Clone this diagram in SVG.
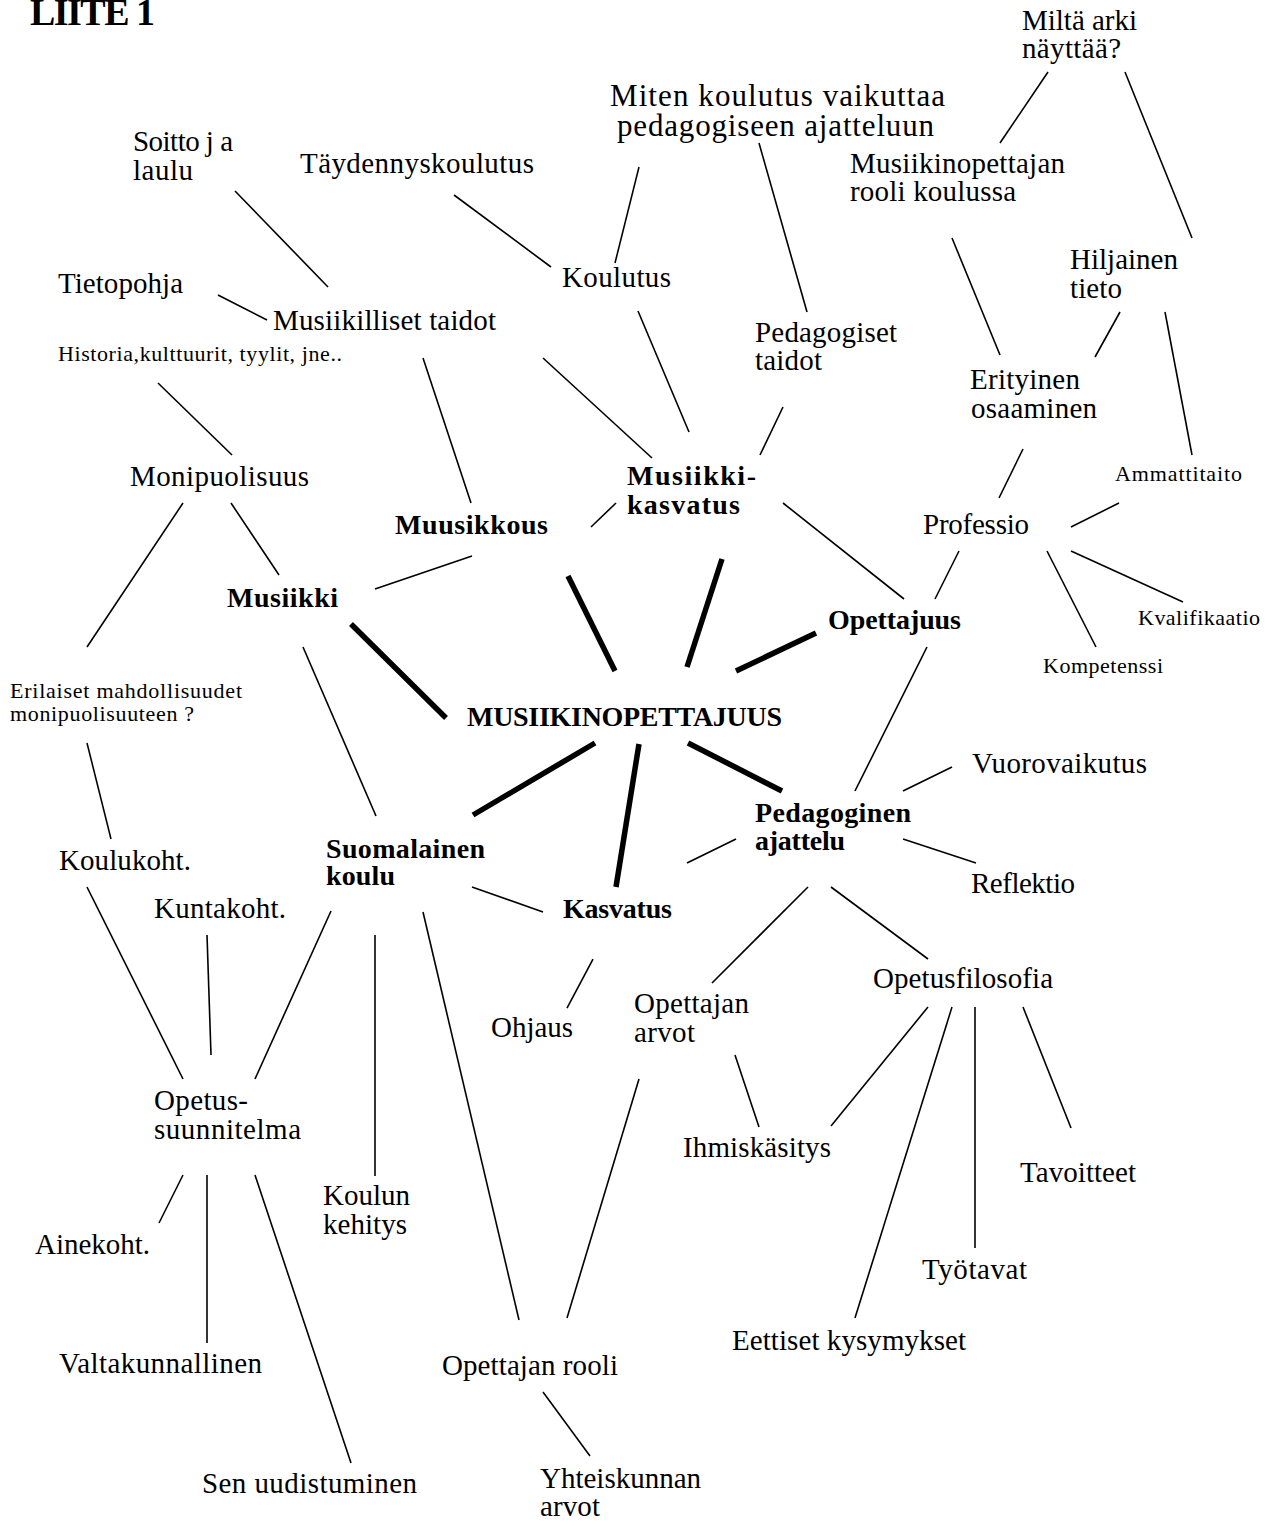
<svg xmlns="http://www.w3.org/2000/svg" width="1273" height="1526" viewBox="0 0 1273 1526">
  <style>
    text { font-family: "Liberation Serif", "DejaVu Serif", serif; fill: #000; }
    .n { font-size: 29px; }
    .big { font-size: 31px; }
    .s { font-size: 22px; }
    .b { font-size: 28px; font-weight: bold; }
    .title { font-size: 38px; font-weight: bold; }
    .thin line { stroke: #000; stroke-width: 1.6; }
    .thick line { stroke: #000; stroke-width: 5.5; }
  </style>
  <rect width="1273" height="1526" fill="#fff"/>

  <!-- connectors -->
  <g id="connectors">
    <g class="thin">
      <line x1="235" y1="191" x2="328" y2="287"/>
      <line x1="218" y1="295" x2="267" y2="320"/>
      <line x1="454" y1="195" x2="551" y2="267"/>
      <line x1="639" y1="167" x2="615" y2="263"/>
      <line x1="759" y1="143" x2="807" y2="312"/>
      <line x1="638" y1="311" x2="689" y2="432"/>
      <line x1="423" y1="358" x2="471" y2="503"/>
      <line x1="543" y1="358" x2="652" y2="458"/>
      <line x1="783" y1="407" x2="760" y2="455"/>
      <line x1="1048" y1="72" x2="1000" y2="143"/>
      <line x1="1125" y1="72" x2="1192" y2="238"/>
      <line x1="952" y1="238" x2="1000" y2="355"/>
      <line x1="1120" y1="312" x2="1095" y2="357"/>
      <line x1="1165" y1="312" x2="1192" y2="455"/>
      <line x1="1023" y1="449" x2="999" y2="498"/>
      <line x1="1119" y1="503" x2="1071" y2="527"/>
      <line x1="1047" y1="551" x2="1096" y2="647"/>
      <line x1="1071" y1="551" x2="1183" y2="602"/>
      <line x1="959" y1="551" x2="935" y2="599"/>
      <line x1="783" y1="503" x2="904" y2="599"/>
      <line x1="591" y1="527" x2="616" y2="503"/>
      <line x1="472" y1="556" x2="375" y2="589"/>
      <line x1="158" y1="383" x2="232" y2="455"/>
      <line x1="231" y1="503" x2="279" y2="575"/>
      <line x1="183" y1="503" x2="87" y2="647"/>
      <line x1="87" y1="743" x2="111" y2="839"/>
      <line x1="303" y1="647" x2="376" y2="816"/>
      <line x1="87" y1="887" x2="183" y2="1079"/>
      <line x1="207" y1="935" x2="211" y2="1055"/>
      <line x1="331" y1="911" x2="255" y2="1079"/>
      <line x1="375" y1="935" x2="375" y2="1176"/>
      <line x1="423" y1="912" x2="519" y2="1320"/>
      <line x1="183" y1="1175" x2="159" y2="1223"/>
      <line x1="207" y1="1175" x2="207" y2="1343"/>
      <line x1="255" y1="1175" x2="351" y2="1463"/>
      <line x1="472" y1="887" x2="543" y2="912"/>
      <line x1="687" y1="863" x2="736" y2="839"/>
      <line x1="593" y1="959" x2="567" y2="1008"/>
      <line x1="808" y1="887" x2="712" y2="983"/>
      <line x1="831" y1="887" x2="928" y2="959"/>
      <line x1="927" y1="647" x2="855" y2="791"/>
      <line x1="903" y1="791" x2="952" y2="767"/>
      <line x1="903" y1="839" x2="976" y2="863"/>
      <line x1="928" y1="1007" x2="831" y2="1126"/>
      <line x1="735" y1="1055" x2="759" y2="1127"/>
      <line x1="952" y1="1007" x2="855" y2="1318"/>
      <line x1="975" y1="1007" x2="975" y2="1248"/>
      <line x1="1023" y1="1007" x2="1071" y2="1128"/>
      <line x1="639" y1="1079" x2="567" y2="1318"/>
      <line x1="543" y1="1392" x2="590" y2="1456"/>
    </g>
    <g class="thick">
      <line x1="351" y1="624" x2="446" y2="718"/>
      <line x1="568" y1="576" x2="615" y2="671"/>
      <line x1="722" y1="559" x2="687" y2="667"/>
      <line x1="816" y1="633" x2="736" y2="671"/>
      <line x1="595" y1="743" x2="473" y2="815"/>
      <line x1="639" y1="744" x2="616" y2="887"/>
      <line x1="688" y1="743" x2="782" y2="791"/>
    </g>
  </g>

  <!-- labels -->
  <g id="title"><text class="title" x="30" y="25" textLength="125">LIITE 1</text></g>

  <g id="center"><text class="b" x="467" y="726" textLength="315">MUSIIKINOPETTAJUUS</text></g>

  <g id="soitto">
    <text class="n" x="133" y="151" textLength="100">Soitto j a</text>
    <text class="n" x="133" y="180" textLength="60">laulu</text>
  </g>
  <g id="taydennys"><text class="n" x="300" y="173" textLength="234">Täydennyskoulutus</text></g>
  <g id="miten">
    <text class="big" x="610" y="106" textLength="335">Miten koulutus vaikuttaa</text>
    <text class="big" x="617" y="136" textLength="317">pedagogiseen ajatteluun</text>
  </g>
  <g id="milta">
    <text class="n" x="1022" y="30" textLength="115">Miltä arki</text>
    <text class="n" x="1022" y="58" textLength="99">näyttää?</text>
  </g>
  <g id="rooli-koulussa">
    <text class="n" x="850" y="173" textLength="215">Musiikinopettajan</text>
    <text class="n" x="850" y="201" textLength="166">rooli koulussa</text>
  </g>
  <g id="tietopohja"><text class="n" x="58" y="293" textLength="125">Tietopohja</text></g>
  <g id="musiikilliset"><text class="n" x="273" y="330" textLength="223">Musiikilliset taidot</text></g>
  <g id="koulutus"><text class="n" x="562" y="287" textLength="109">Koulutus</text></g>
  <g id="hiljainen">
    <text class="n" x="1070" y="269" textLength="108">Hiljainen</text>
    <text class="n" x="1070" y="298" textLength="52">tieto</text>
  </g>
  <g id="historia"><text class="s" x="58" y="361" textLength="284">Historia,kulttuurit, tyylit, jne..</text></g>
  <g id="pedagogiset">
    <text class="n" x="755" y="342" textLength="142">Pedagogiset</text>
    <text class="n" x="755" y="370" textLength="67">taidot</text>
  </g>
  <g id="erityinen">
    <text class="n" x="970" y="389" textLength="110">Erityinen</text>
    <text class="n" x="971" y="418" textLength="126">osaaminen</text>
  </g>
  <g id="monipuolisuus"><text class="n" x="130" y="486" textLength="179">Monipuolisuus</text></g>
  <g id="musiikkikasvatus">
    <text class="b" x="627" y="485" textLength="129">Musiikki-</text>
    <text class="b" x="627" y="514" textLength="113">kasvatus</text>
  </g>
  <g id="ammattitaito"><text class="s" x="1115" y="481" textLength="127">Ammattitaito</text></g>
  <g id="muusikkous"><text class="b" x="395" y="534" textLength="153">Muusikkous</text></g>
  <g id="professio"><text class="n" x="923" y="534" textLength="106">Professio</text></g>
  <g id="musiikki"><text class="b" x="227" y="607" textLength="111">Musiikki</text></g>
  <g id="opettajuus"><text class="b" x="828" y="629" textLength="133">Opettajuus</text></g>
  <g id="kvalifikaatio"><text class="s" x="1138" y="625" textLength="122">Kvalifikaatio</text></g>
  <g id="kompetenssi"><text class="s" x="1043" y="673" textLength="120">Kompetenssi</text></g>
  <g id="erilaiset">
    <text class="s" x="10" y="698" textLength="232">Erilaiset mahdollisuudet</text>
    <text class="s" x="10" y="721" textLength="184">monipuolisuuteen ?</text>
  </g>
  <g id="vuorovaikutus"><text class="n" x="972" y="773" textLength="175">Vuorovaikutus</text></g>
  <g id="pedagoginen">
    <text class="b" x="755" y="822" textLength="156">Pedagoginen</text>
    <text class="b" x="755" y="850" textLength="90">ajattelu</text>
  </g>
  <g id="suomalainen">
    <text class="b" x="326" y="858" textLength="159">Suomalainen</text>
    <text class="b" x="326" y="885" textLength="69">koulu</text>
  </g>
  <g id="koulukoht"><text class="n" x="59" y="870" textLength="132">Koulukoht.</text></g>
  <g id="reflektio"><text class="n" x="971" y="893" textLength="104">Reflektio</text></g>
  <g id="kuntakoht"><text class="n" x="154" y="918" textLength="132">Kuntakoht.</text></g>
  <g id="kasvatus"><text class="b" x="563" y="918" textLength="109">Kasvatus</text></g>
  <g id="opetusfilosofia"><text class="n" x="873" y="988" textLength="180">Opetusfilosofia</text></g>
  <g id="opettajan-arvot">
    <text class="n" x="634" y="1013" textLength="115">Opettajan</text>
    <text class="n" x="634" y="1042" textLength="61">arvot</text>
  </g>
  <g id="ohjaus"><text class="n" x="491" y="1037" textLength="82">Ohjaus</text></g>
  <g id="opetussuunnitelma">
    <text class="n" x="154" y="1110" textLength="94">Opetus-</text>
    <text class="n" x="154" y="1139" textLength="147">suunnitelma</text>
  </g>
  <g id="ihmiskasitys"><text class="n" x="683" y="1157" textLength="148">Ihmiskäsitys</text></g>
  <g id="tavoitteet"><text class="n" x="1020" y="1182" textLength="116">Tavoitteet</text></g>
  <g id="koulun-kehitys">
    <text class="n" x="323" y="1205" textLength="87">Koulun</text>
    <text class="n" x="323" y="1234" textLength="84">kehitys</text>
  </g>
  <g id="ainekoht"><text class="n" x="35" y="1254" textLength="115">Ainekoht.</text></g>
  <g id="tyotavat"><text class="n" x="922" y="1279" textLength="105">Työtavat</text></g>
  <g id="eettiset"><text class="n" x="732" y="1350" textLength="234">Eettiset kysymykset</text></g>
  <g id="valtakunnallinen"><text class="n" x="59" y="1373" textLength="203">Valtakunnallinen</text></g>
  <g id="opettajan-rooli"><text class="n" x="442" y="1375" textLength="176">Opettajan rooli</text></g>
  <g id="sen-uudistuminen"><text class="n" x="202" y="1493" textLength="215">Sen uudistuminen</text></g>
  <g id="yhteiskunnan">
    <text class="n" x="540" y="1488" textLength="161">Yhteiskunnan</text>
    <text class="n" x="540" y="1516" textLength="60">arvot</text>
  </g>
</svg>
